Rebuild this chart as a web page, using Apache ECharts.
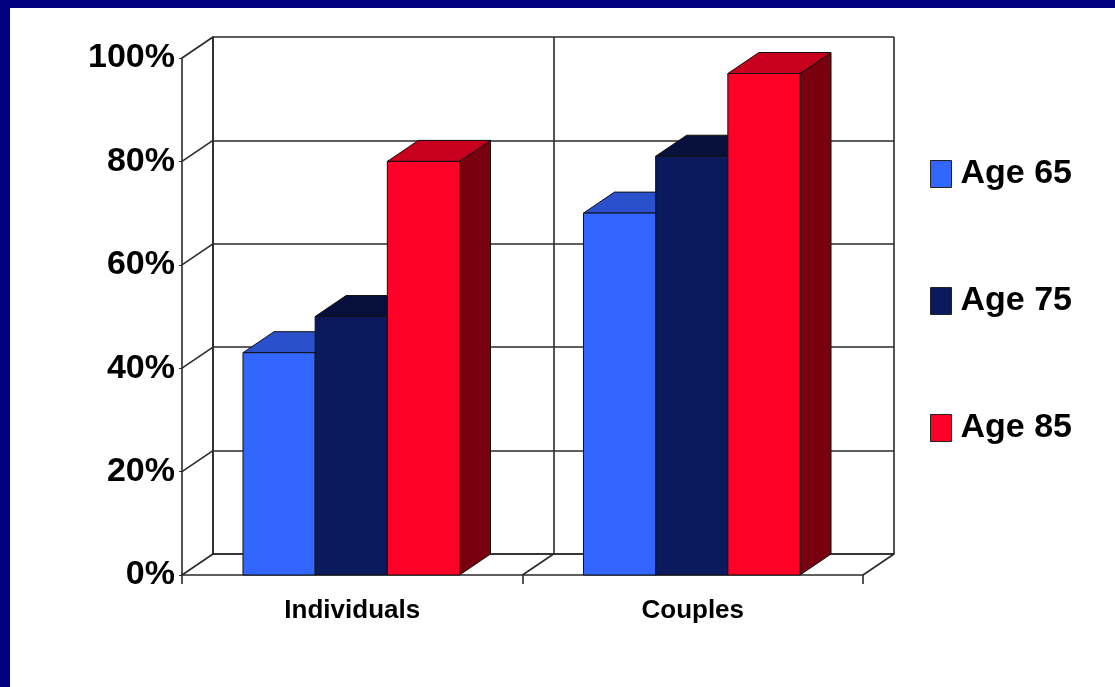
<!DOCTYPE html>
<html>
<head>
<meta charset="utf-8">
<script src="https://cdn.jsdelivr.net/npm/echarts/dist/echarts.min.js"></script>
<style>
  html, body { margin: 0; padding: 0; background: #fff; }
  #chart { width: 1115px; height: 687px; }
</style>
</head>
<body>
<div id="chart"></div>
<script>
const categories = ['Individuals', 'Couples'];
const seriesNames = ['Age 65', 'Age 75', 'Age 85'];
const age65 = [43, 70];
const age75 = [50, 81];
const age85 = [80, 97];
const yTicks = [0, 20, 40, 60, 80, 100];

// depth of the fake 3d box, in px
const DX = 31, DY = -21;
const FONT = '"Liberation Sans", Arial, sans-serif';
const LINE = '#2a2a2a';
const LW = 1.6;

const faces = [
  { front: '#3366ff', top: '#2a50cc', side: '#1f3d99' },
  { front: '#0b1a5c', top: '#06103a', side: '#040b2c' },
  { front: '#ff0026', top: '#c8001e', side: '#78000f' }
];

function barItem (k) {
  return function (params, api) {
    const i = api.value(0);
    const top = api.coord([i, api.value(1)]);
    const base = api.coord([i, 0]);
    const band = api.size([1, 0])[0];
    const w = band * 0.212;
    const x0 = top[0] - 1.5 * w + k * w - 1;
    const x1 = x0 + w;
    const yt = top[1];
    const yb = base[1];
    const f = faces[k];
    const edge = { stroke: '#111', lineWidth: 1 };
    return {
      type: 'group',
      children: [
        { type: 'polygon', shape: { points: [[x1, yt], [x1 + DX, yt + DY], [x1 + DX, yb + DY], [x1, yb]] },
          style: Object.assign({ fill: f.side }, edge) },
        { type: 'polygon', shape: { points: [[x0, yt], [x0 + DX, yt + DY], [x1 + DX, yt + DY], [x1, yt]] },
          style: Object.assign({ fill: f.top }, edge) },
        { type: 'rect', shape: { x: x0, y: yt, width: w, height: yb - yt },
          style: Object.assign({ fill: f.front }, edge) }
      ]
    };
  };
}

// side wall grid lines, from front axis to back wall
function sideWall (params, api) {
  const y = api.coord([0, api.value(1)])[1];
  const x = params.coordSys.x;
  return { type: 'line', shape: { x1: x, y1: y, x2: x + DX, y2: y + DY },
    style: { stroke: LINE, lineWidth: LW } };
}

// floor lines at the right edge of each category
function floorLine (params, api) {
  const p = api.coord([api.value(0), 0]);
  const x = p[0] + api.size([1, 0])[0] / 2;
  return { type: 'line', shape: { x1: x, y1: p[1], x2: x + DX, y2: p[1] + DY },
    style: { stroke: LINE, lineWidth: LW } };
}

const values = [age65, age75, age85];
const barSeries = seriesNames.map((name, k) => ({
  name: name,
  type: 'custom',
  xAxisIndex: 0,
  yAxisIndex: 0,
  itemStyle: { color: faces[k].front },
  renderItem: barItem(k),
  encode: { x: 0, y: 1 },
  data: values[k].map((v, i) => [i, v]),
  z: 3 + k
}));

const chart = echarts.init(document.getElementById('chart'));
chart.setOption({
  animation: false,
  backgroundColor: '#fff',
  textStyle: { fontFamily: FONT },
  grid: [
    { left: 182, top: 58, width: 681, height: 517 },
    { left: 213, top: 37, width: 681, height: 517 }
  ],
  legend: {
    data: seriesNames,
    orient: 'vertical',
    left: 925,
    top: 152,
    icon: 'rect',
    itemWidth: 21,
    itemHeight: 27,
    itemGap: 93,
    itemStyle: { borderColor: '#222', borderWidth: 1 },
    textStyle: { fontFamily: FONT, fontSize: 34, fontWeight: 'bold', color: '#000', padding: [0, 0, 0, 4] }
  },
  xAxis: [
    {
      type: 'category', gridIndex: 0, data: categories, boundaryGap: true,
      axisLine: { show: true, lineStyle: { color: LINE, width: LW } },
      axisTick: { show: true, interval: 0, length: 9, lineStyle: { color: LINE, width: LW } },
      axisLabel: { fontFamily: FONT, fontSize: 26, fontWeight: 'bold', color: '#000', margin: 23 },
      splitLine: { show: false }
    },
    {
      type: 'category', gridIndex: 1, data: categories, boundaryGap: true,
      axisLine: { show: true, lineStyle: { color: LINE, width: LW } },
      axisTick: { show: false },
      axisLabel: { show: false },
      splitLine: { show: true, interval: 0, lineStyle: { color: LINE, width: LW } }
    }
  ],
  yAxis: [
    {
      type: 'value', gridIndex: 0, min: 0, max: 100, interval: 20,
      axisLine: { show: true, lineStyle: { color: LINE, width: LW } },
      axisTick: { show: true, length: 3, lineStyle: { color: LINE } },
      axisLabel: { fontFamily: FONT, fontSize: 34, fontWeight: 'bold', color: '#000', margin: 7, formatter: '{value}%' },
      splitLine: { show: false }
    },
    {
      type: 'value', gridIndex: 1, min: 0, max: 100, interval: 20,
      axisLine: { show: true, lineStyle: { color: LINE, width: LW } },
      axisTick: { show: false },
      axisLabel: { show: false },
      splitLine: { show: true, lineStyle: { color: LINE, width: LW } }
    }
  ],
  graphic: [
    { type: 'rect', left: 0, top: 0, shape: { width: 1115, height: 8 }, style: { fill: '#000080' }, z: 100 },
    { type: 'rect', left: 0, top: 0, shape: { width: 10, height: 687 }, style: { fill: '#000080' }, z: 100 }
  ],
  series: [
    {
      name: 'sideWall', type: 'custom', xAxisIndex: 0, yAxisIndex: 0,
      renderItem: sideWall, encode: { x: 0, y: 1 },
      data: yTicks.map(v => [0, v]), silent: true, z: 1
    },
    {
      name: 'floor', type: 'custom', xAxisIndex: 0, yAxisIndex: 0,
      renderItem: floorLine, encode: { x: 0, y: 1 },
      data: categories.map((c, i) => [i, 0]), silent: true, z: 1
    }
  ].concat(barSeries)
});
</script>
</body>
</html>
